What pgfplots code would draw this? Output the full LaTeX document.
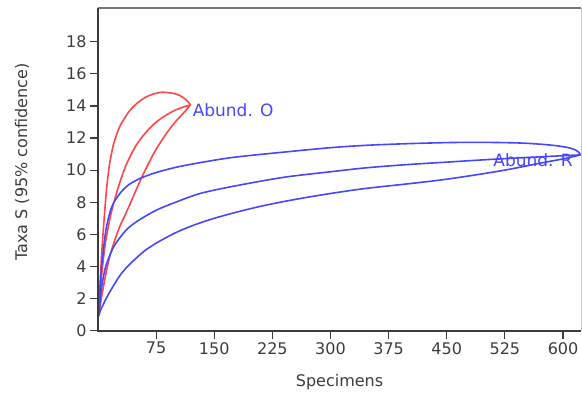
\documentclass[border=0pt]{standalone}
\usepackage{fontspec}
\setmainfont{DejaVu Sans}
\usepackage{pgfplots}
\pgfplotsset{compat=1.18}
\definecolor{cred}{RGB}{255,70,70}
\definecolor{cblue}{RGB}{70,70,255}
\definecolor{axgray}{RGB}{60,60,60}
\begin{document}
\begin{tikzpicture}[x=1pt,y=1pt]
\useasboundingbox (0,0) rectangle (582,394);
\begin{axis}[
  at={(98pt,63.3pt)}, anchor=south west,
  scale only axis, width=483pt, height=322.7pt,
  xmin=0, xmax=623.2, ymin=0, ymax=20.1,
  xtick={75,150,225,300,375,450,525,600},
  ytick={0,2,4,6,8,10,12,14,16,18},
  xtick pos=left, ytick pos=left,
  tick align=outside, major tick length=8pt,
  tick style={line width=1.2pt, axgray},
  axis line style={draw=none},
  clip=false,
  /pgf/number format/assume math mode=true,
  tick label style={font=\fontsize{16}{19}\selectfont, text=axgray},
  xlabel={Specimens}, ylabel={Taxa S (95\% confidence)},
  label style={font=\fontsize{16}{19}\selectfont, text=axgray},
  x label style={at={(axis description cs:0.5,-0.159)}, anchor=center},
  y label style={at={(axis description cs:-0.157,0.523)}, anchor=center},
  every axis plot/.append style={line width=1.6pt, smooth, no markers},
]
% Abund. O (red)
\addplot[cred] coordinates {(1,1)(2,2.2)(3,3.2)(5,5.0)(8,7.0)(11,8.8)(15,10.4)(20,11.6)(25,12.35)(30,12.9)(40,13.65)(50,14.15)(60,14.5)(70,14.72)(82,14.85)(95,14.8)(102,14.72)(108,14.58)(112,14.45)(115,14.32)(117,14.22)(118.5,14.12)(119,14.06)};
\addplot[cred] coordinates {(1,1)(2,1.8)(3,2.5)(5,3.6)(8,4.9)(10,5.6)(15,6.9)(20,7.9)(25,8.75)(30,9.5)(37,10.4)(48,11.45)(60,12.25)(74,12.95)(87,13.4)(99,13.72)(110,13.93)(119,14.06)};
\addplot[cred] coordinates {(1,1)(3,1.6)(5,2.2)(10,3.5)(15,4.6)(20,5.4)(25,6.1)(30,6.7)(35,7.2)(45,8.3)(55,9.4)(65,10.4)(75,11.3)(87,12.2)(98,12.9)(108,13.45)(114,13.75)(119,14.06)};
% Abund. R (blue)
\addplot[cblue] coordinates {(1,1)(3,2.9)(5,4.2)(10,6.2)(15,7.3)(20,7.95)(30,8.65)(40,9.1)(55,9.5)(75,9.85)(100,10.17)(132,10.47)(175,10.8)(239,11.12)(300,11.4)(347,11.55)(400,11.65)(454,11.72)(500,11.73)(545,11.69)(575,11.6)(595,11.5)(607,11.4)(615,11.28)(620,11.13)(622.5,10.95)};
\addplot[cblue] coordinates {(1,1)(3,2.0)(5,2.8)(10,4.0)(20,5.2)(35,6.2)(50,6.8)(75,7.5)(100,8.0)(132,8.55)(175,9.0)(239,9.55)(300,9.9)(347,10.15)(400,10.35)(450,10.5)(500,10.65)(550,10.78)(600,10.9)(622.5,10.95)};
\addplot[cblue] coordinates {(1,0.9)(3,1.25)(5,1.45)(10,1.95)(15,2.4)(20,2.8)(25,3.2)(30,3.55)(39,4.05)(50,4.55)(60,4.97)(75,5.45)(100,6.1)(125,6.6)(150,7.0)(180,7.4)(210,7.75)(239,8.04)(275,8.35)(310,8.62)(347,8.87)(400,9.15)(441,9.38)(480,9.65)(527,10.02)(570,10.43)(600,10.7)(613,10.84)(622.5,10.95)};
\node[anchor=west, text=cblue, font=\fontsize{17}{20}\selectfont, inner sep=0pt] at (axis cs:122,13.75) {Abund. O};
\node[anchor=west, text=cblue, font=\fontsize{17}{20}\selectfont, inner sep=0pt] at (axis cs:510,10.64) {Abund. R};
% frame
\draw[line width=2pt, black!55] (rel axis cs:0,1) -- (rel axis cs:1,1);
\draw[line width=0.8pt, black!20] (rel axis cs:1,1) -- (rel axis cs:1,0);
\draw[line width=2pt, axgray] (rel axis cs:0,1) -- (rel axis cs:0,0) -- (rel axis cs:1,0);
\end{axis}
\end{tikzpicture}
\end{document}
